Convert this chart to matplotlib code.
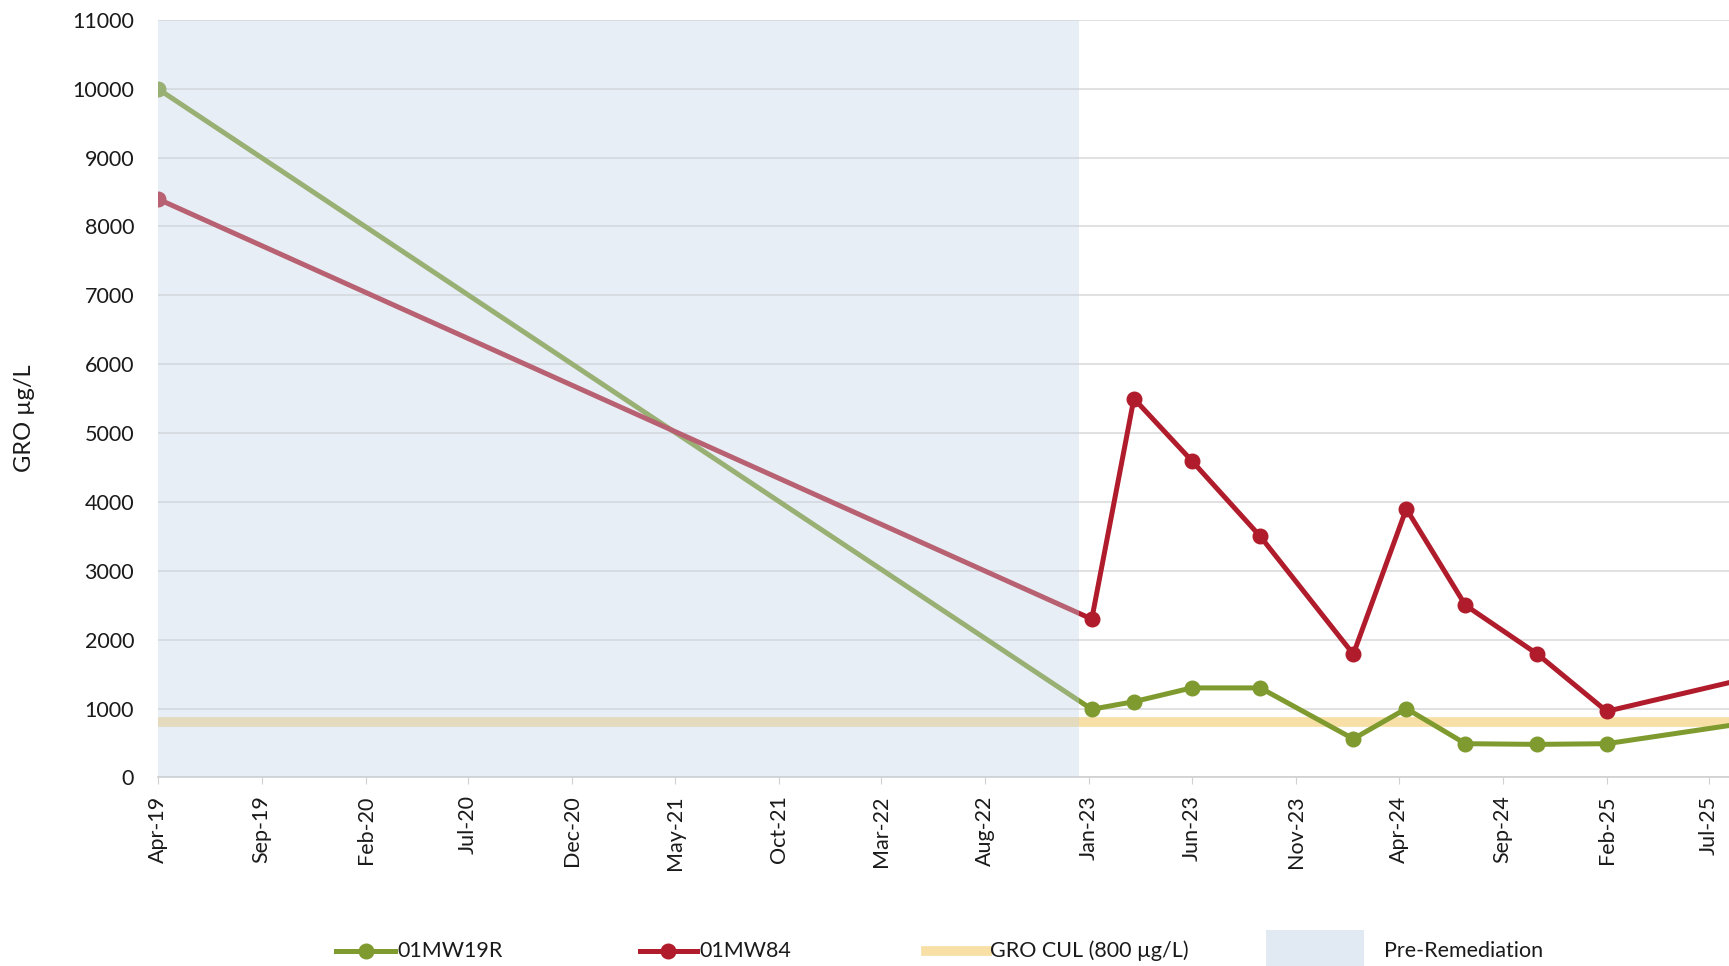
import numpy as np
import pandas as pd
import matplotlib
matplotlib.use("Agg")
import matplotlib.pyplot as plt
import matplotlib.dates as mdates
from matplotlib.lines import Line2D
from matplotlib.patches import Rectangle

plt.rcParams['font.family'] = ['Lato', 'DejaVu Sans']

# sampling dates (last one sits just past the visible edge)
dates = pd.to_datetime([
    "2019-04-01", "2023-01-05", "2023-03-08", "2023-06-01", "2023-09-10",
    "2024-01-25", "2024-04-12", "2024-07-08", "2024-10-22", "2025-02-01",
    "2025-09-01",
])
mw19r = [10000, 990, 1100, 1300, 1300, 560, 1000, 490, 480, 490, 800]
mw84 = [8400, 2300, 5500, 4600, 3500, 1790, 3900, 2500, 1790, 960, 1450]
cul = 800
pre_start, pre_end = pd.Timestamp("2019-04-01"), pd.Timestamp("2022-12-17")
x_start, x_end = pd.Timestamp("2019-04-01"), pd.Timestamp("2025-07-31")
tick_dates = pd.date_range("2019-04-01", "2025-07-01", freq="5MS")

green = "#7f9b2f"
red = "#b01c2b"
cul_col = "#f7dfa6"
shade = "#c5d4e6"

fig = plt.figure(figsize=(17.29, 9.66), dpi=100)
ax = fig.add_axes([0.0912, 0.1952, 0.9088, 0.7843])

ax.axhline(cul, color=cul_col, lw=7, zorder=2, solid_capstyle="butt")
ax.plot(dates, mw19r, color=green, lw=3.6, marker="o", ms=10.5, zorder=3)
ax.plot(dates, mw84, color=red, lw=3.6, marker="o", ms=10.5, zorder=4)
ax.axvspan(pre_start, pre_end, color=shade, alpha=0.38, lw=0, zorder=5)

ax.set_xlim(x_start, x_end)
ax.set_ylim(0, 11000)
ax.set_yticks(np.arange(0, 11001, 1000))
ax.set_xticks(tick_dates)
ax.xaxis.set_major_formatter(mdates.DateFormatter("%b-%y"))
ax.grid(axis="y", color="#d9d9d9", lw=1.1, zorder=0)
ax.set_axisbelow(True)
for s in ["top", "right", "left"]:
    ax.spines[s].set_visible(False)
ax.spines["bottom"].set_color("#d0d0d0")
ax.spines["bottom"].set_linewidth(1.2)
ax.tick_params(axis="y", length=0, pad=17, labelsize=15.5, labelcolor="#1a1a1a")
ax.tick_params(axis="x", length=5, color="#d0d0d0", pad=8, labelsize=15.5,
               labelcolor="#1a1a1a", labelrotation=90)
ax.set_ylabel("GRO µg/L", fontsize=17, color="#1a1a1a")
ax.yaxis.set_label_coords(-0.078, 0.474)

# legend along the bottom edge
ly = 0.016
items = [(0.1945, 0.2283, green, "o", "01MW19R"),
         (0.370, 0.403, red, "o", "01MW84"),
         (0.5357, 0.5708, cul_col, None, "GRO CUL (800 µg/L)")]
for x0, x1, c, m, lab in items:
    if m:
        fig.add_artist(Line2D([x0, x1], [ly, ly], color=c, lw=3.6, transform=fig.transFigure))
        fig.add_artist(Line2D([(x0 + x1) / 2], [ly], color=c, marker=m, ms=10.5,
                              transform=fig.transFigure))
    else:
        fig.add_artist(Line2D([x0, x1], [ly, ly], color=c, lw=7, transform=fig.transFigure))
    fig.text(x1 + 0.0015, ly, lab, fontsize=15.5, va="center", ha="left", color="#1a1a1a")
fig.add_artist(Rectangle((0.7321, 0.0), 0.0568, 0.0377, color=shade, alpha=0.5,
                         lw=0, transform=fig.transFigure))
fig.text(0.8004, ly, "Pre-Remediation", fontsize=15.5, va="center", ha="left", color="#1a1a1a")

fig.savefig("out.png", dpi=100)
